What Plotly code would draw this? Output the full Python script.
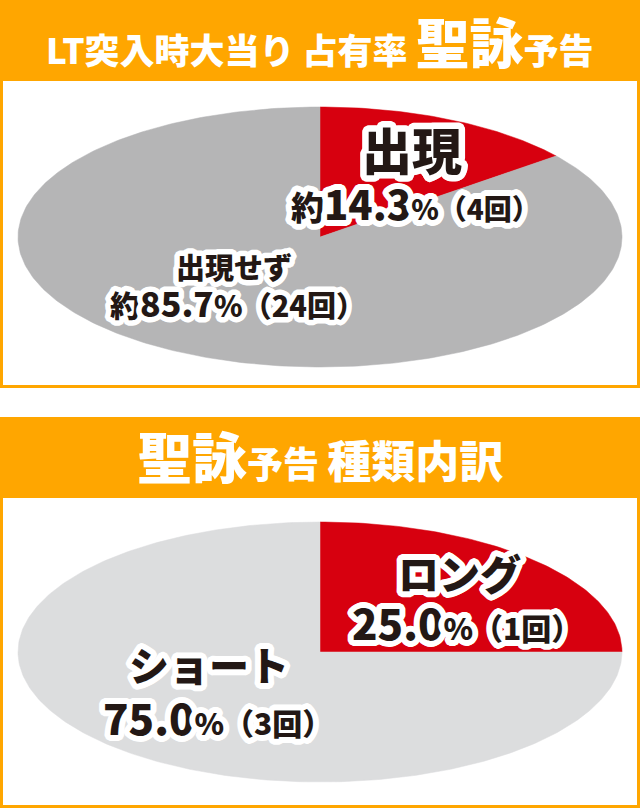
import numpy as np
import plotly.graph_objects as go

# panel 1: LT突入時大当り占有率 聖詠予告
lt_labels = ["出現", "出現せず"]
lt_counts = [4, 24]

# panel 2: 聖詠予告 種類内訳
kind_labels = ["ロング", "ショート"]
kind_counts = [1, 3]

W, H = 640, 808
ORANGE = "#FFA600"
RED = "#D7000F"
GRAY1 = "#B5B5B6"
GRAY2 = "#DCDDDE"
TEXT = "#231815"
FONT = "Noto Sans CJK JP"
HALO = ",".join(f"{dx}px {dy}px 0 white" for dx, dy in
                [(3, 0), (-3, 0), (0, 3), (0, -3), (2, 2), (-2, -2), (2, -2), (-2, 2)])


def px(x):
    return x / W


def py(y):
    return 1 - y / H


def slices(counts, colors, xa, ya):
    # clockwise from 12 o'clock, like the source pie
    out = []
    total = sum(counts)
    start = 0.0
    for c, col in zip(counts, colors):
        end = start + c / total
        t = np.linspace(start, end, max(int((end - start) * 400), 3)) * 2 * np.pi
        xs = np.concatenate([[0], np.sin(t), [0]])
        ys = np.concatenate([[0], np.cos(t), [0]])
        out.append(go.Scatter(x=xs, y=ys, xaxis=xa, yaxis=ya, mode="lines",
                              fill="toself", fillcolor=col,
                              line=dict(width=0.5, color=col),
                              hoverinfo="skip", showlegend=False))
        start = end
    return out


def pct(counts, i):
    return f"{counts[i] / sum(counts) * 100:.1f}"


fig = go.Figure()
for tr in slices(lt_counts, [RED, GRAY1], "x", "y"):
    fig.add_trace(tr)
for tr in slices(kind_counts, [RED, GRAY2], "x2", "y2"):
    fig.add_trace(tr)

# ellipse geometry in pixels (center x, center y, half width, half height)
PAD = 1.02
cx, a, b = 320, 302, 130
cy1, cy2 = 237, 652

ax = dict(range=[-PAD, PAD], visible=False, fixedrange=True)
fig.update_layout(
    xaxis=dict(ax, domain=[px(cx - a * PAD), px(cx + a * PAD)], anchor="y"),
    yaxis=dict(ax, domain=[py(cy1 + b * PAD), py(cy1 - b * PAD)], anchor="x"),
    xaxis2=dict(ax, domain=[px(cx - a * PAD), px(cx + a * PAD)], anchor="y2"),
    yaxis2=dict(ax, domain=[py(cy2 + b * PAD), py(cy2 - b * PAD)], anchor="x2"),
)

# orange headers + framed panels
shapes = []
for top, head, bottom in [(0, 81, 388), (417, 498, 808)]:
    shapes.append(dict(type="rect", xref="paper", yref="paper", layer="below",
                       x0=0, x1=1, y0=py(bottom), y1=py(top),
                       fillcolor=ORANGE, line_width=0))
    shapes.append(dict(type="rect", xref="paper", yref="paper", layer="below",
                       x0=px(3), x1=px(637), y0=py(bottom - 3), y1=py(head),
                       fillcolor="white", line_width=0))

anns = []


def label(x, y, text, size, color=TEXT, weight=900, halo=True):
    f = dict(family=FONT, size=size, color=color, weight=weight)
    if halo:
        f["shadow"] = HALO
    anns.append(dict(x=px(x), y=py(y), xref="paper", yref="paper", text=text,
                     showarrow=False, xanchor="center", yanchor="middle", font=f))


def sp(size, s, stroke=0):
    # white outline drawn behind the glyphs (svg stroke + paint-order)
    st = f"font-size:{size}px"
    if stroke:
        st += (f";stroke:white;stroke-width:{stroke}px"
               ";stroke-linejoin:round;paint-order:stroke fill")
    return f"<span style='{st}'>{s}</span>"


# headers
label(320, 40, sp(35, "LT突入時大当り 占有率 ") + sp(54, "聖詠") + sp(35, "予告"),
      35, color="white", halo=False)
label(320, 454, sp(55, "聖詠") + sp(36, "予告 ") + sp(44, "種類内訳"),
      44, color="white", halo=False)

# panel 1 labels
label(412, 148, sp(50, lt_labels[0], 7), 50)
label(415, 203, sp(33, "約", 6) + sp(40, pct(lt_counts, 0), 6)
      + sp(28, f"%（{lt_counts[0]}回）", 6), 33)
label(234, 266, sp(29, lt_labels[1], 5), 29)
label(237, 302, sp(30, "約", 5) + sp(34, pct(lt_counts, 1), 5)
      + sp(29, f"%（{lt_counts[1]}回）", 5), 30)

# panel 2 labels
label(459, 572, sp(41, kind_labels[0], 6), 41)
label(466, 621, sp(42, pct(kind_counts, 0), 6)
      + sp(30, f"%（{kind_counts[0]}回）", 6), 42)
label(209, 664, sp(40, kind_labels[1], 6), 40)
label(217, 716, sp(42, pct(kind_counts, 1), 6)
      + sp(30, f"%（{kind_counts[1]}回）", 6), 42)

fig.update_layout(
    width=W, height=H,
    margin=dict(l=0, r=0, t=0, b=0),
    paper_bgcolor="white", plot_bgcolor="rgba(0,0,0,0)",
    shapes=shapes, annotations=anns,
    showlegend=False,
)

# page body has a default 8px margin; drop it so the chart sits at 0,0
fig.write_html("out.html", config={"displayModeBar": False},
               post_script="document.body.style.margin='0';")
